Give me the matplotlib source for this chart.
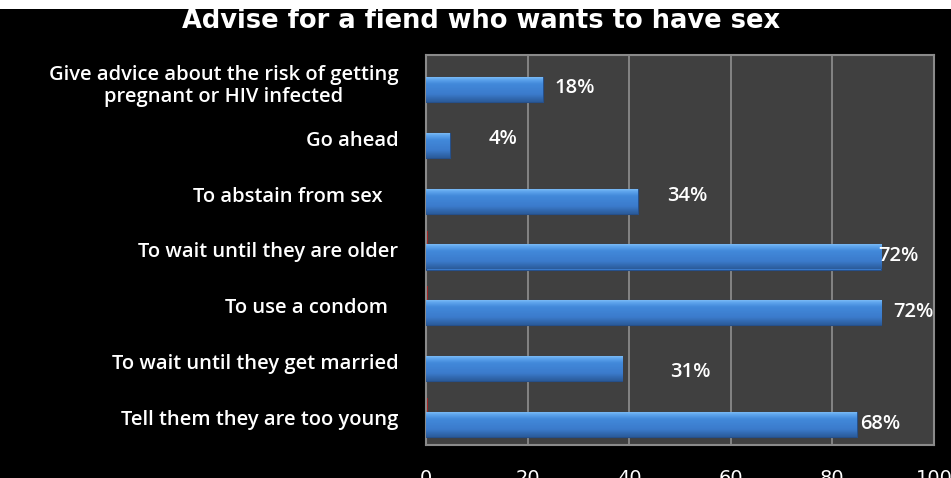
import numpy as np
import matplotlib.pyplot as plt
from matplotlib.patches import Rectangle

# categories top to bottom
categories = ["Give advice about the risk of getting\npregnant or HIV infected",
              "Go ahead",
              "To abstain from sex   ",
              "To wait until they are older",
              "To use a condom  ",
              "To wait until they get married",
              "Tell them they are too young"]
# bar lengths as drawn on the axis
bar_len = [23.0, 4.7, 41.7, 89.6, 89.6, 38.6, 84.8]
pct_labels = ["18%", "4%", "34%", "72%", "72%", "31%", "68%"]
# tiny second series (red slivers at zero)
red_len = [0, 0, 0, 0.35, 0.35, 0, 0.35]
xticks = [0, 20, 40, 60, 80, 100]

# where the data labels sit (x in axis units, y shift in slots)
label_x = [25.2, 12.4, 47.4, 89.0, 91.9, 48.0, 85.4]
label_dy = [0.09, 0.0, 0.03, 0.11, 0.11, 0.19, 0.125]

fig = plt.figure(figsize=(9.51, 4.78), dpi=100, facecolor='black')
fig.patches.append(Rectangle((0, 1 - 9/478), 1, 9/478, transform=fig.transFigure,
                             facecolor='white', edgecolor='none', zorder=-1))
ax = fig.add_axes([426/951, 1 - 445/478, (934 - 426)/951, (445 - 55)/478])
ax.set_facecolor('#404040')

y = np.arange(len(categories))
h = 0.45
off = 0.125

# vertical gradient for the blue bars
stops = [(0.0, '#86c2f7'), (0.12, '#5fa6ee'), (0.3, '#4289da'),
         (0.7, '#3b7bcc'), (1.0, '#2b5b9a')]
pos = np.linspace(0, 1, 64)
cols = []
for c in range(3):
    vals = [int(s[1][1 + 2*c:3 + 2*c], 16) / 255 for s in stops]
    cols.append(np.interp(pos, [s[0] for s in stops], vals))
grad = np.stack(cols, axis=-1)[:, None, :]

bars = ax.barh(y + off, bar_len, height=h, color='#3b7bcc',
               edgecolor='#26508a', linewidth=0.8, zorder=3)
for b in bars:
    x0, y0 = b.get_x(), b.get_y()
    w, hh = b.get_width(), b.get_height()
    im = ax.imshow(grad, extent=(x0, x0 + w, y0 + hh, y0), aspect='auto',
                   zorder=3.5, interpolation='bilinear')
    im.set_clip_path(b)

ax.barh(y - off, red_len, height=h, color='#a02020', edgecolor='none', zorder=2)

for i in range(len(categories)):
    ax.text(label_x[i], y[i] + label_dy[i], pct_labels[i], color='white',
            fontsize=14.5, fontweight='semibold', family='Open Sans',
            va='center', ha='left', zorder=5)

ax.set_xlim(0, 100)
ax.set_ylim(len(categories) - 0.5, -0.5)
ax.set_xticks(xticks)
ax.set_yticks(y)
ax.set_yticklabels(categories, multialignment='center', linespacing=1.1)
ax.tick_params(axis='y', length=0, pad=20, colors='white', labelsize=14.5)
ax.tick_params(axis='x', length=0, pad=17, colors='white', labelsize=14)
for lab in ax.get_yticklabels():
    lab.set_family('Open Sans')
    lab.set_fontweight('semibold')
ax.grid(axis='x', color='#8a8a8a', linewidth=1.3, zorder=1)
ax.set_axisbelow(True)
for s in ax.spines.values():
    s.set_color('#8a8a8a')
    s.set_linewidth(1.5)

fig.text(0.506, 1 - 28/478, "Advise for a fiend who wants to have sex", color='white',
         fontsize=18.5, fontweight='bold', family='DejaVu Sans', ha='center', va='baseline')

fig.savefig('out.png', dpi=100, facecolor='black')
